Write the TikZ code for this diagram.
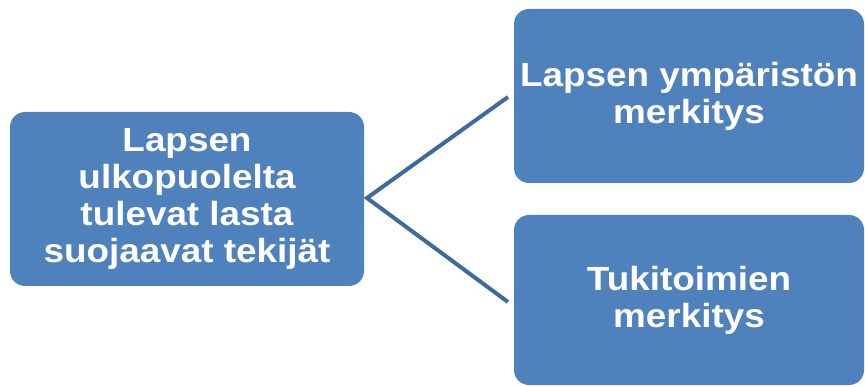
\documentclass[tikz,border=0pt]{standalone}
\usepackage{fontspec}
\setmainfont{Liberation Sans}[FakeStretch=1.1]
\definecolor{boxblue}{HTML}{4F81BD}
\definecolor{lineblue}{HTML}{3F6A9E}
\begin{document}
\begin{tikzpicture}[x=1pt,y=-1pt,
  blockbox/.style={draw=none,fill=boxblue,rounded corners=15pt,inner sep=0pt,
    text=white,align=center,font=\fontsize{33.5}{37}\selectfont\bfseries},
  link/.style={draw=lineblue,line width=4pt}]
\useasboundingbox (0,0) rectangle (865,387);
\node[blockbox,minimum width=354pt,minimum height=174pt] (left) at (187,199)
  {Lapsen\\ulkopuolelta\\tulevat lasta\\suojaavat tekijät};
\node[blockbox,minimum width=350pt,minimum height=174pt] (top) at (689,96)
  {Lapsen ympäristön\\merkitys};
\node[blockbox,minimum width=350pt,minimum height=170pt] (bot) at (689,300)
  {Tukitoimien\\merkitys};
\coordinate (apex) at (367,198);
\coordinate (tend) at (508,97);
\coordinate (bend) at (508,302);
\draw[link] (tend) -- (apex) -- (bend);
\end{tikzpicture}
\end{document}
